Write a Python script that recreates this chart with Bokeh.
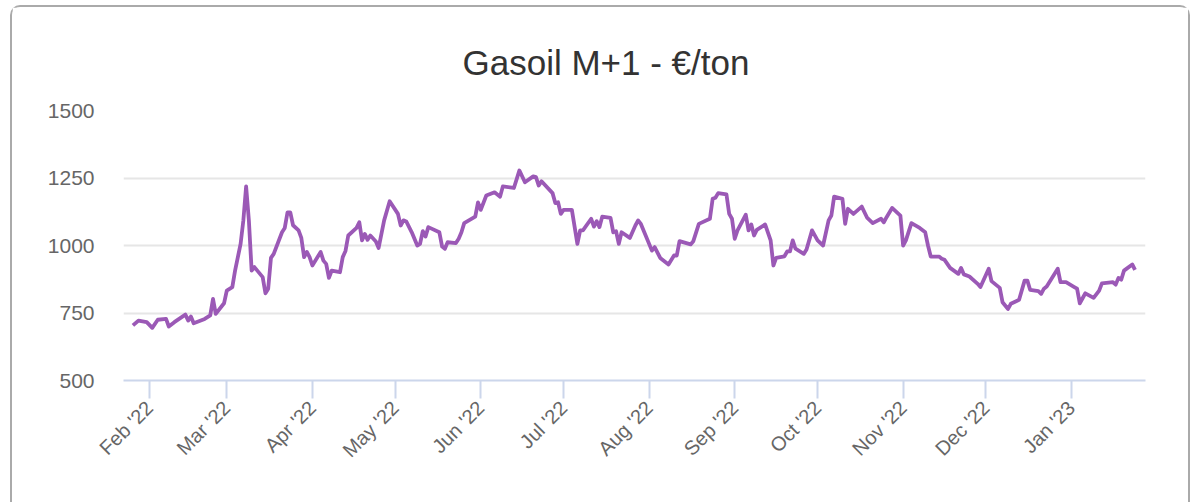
import datetime as dt
from math import pi
import pandas as pd
from bokeh.plotting import figure
from bokeh.models import Range1d, FixedTicker, DatetimeTickFormatter, ColumnDataSource
from bokeh.embed import file_html
from bokeh.resources import INLINE

title_text = "Gasoil M+1 - €/ton"

dates = [
    "2022-01-26", "2022-01-28", "2022-01-31", "2022-02-02", "2022-02-04", "2022-02-07", "2022-02-08",
    "2022-02-10", "2022-02-14", "2022-02-15", "2022-02-16", "2022-02-17", "2022-02-21", "2022-02-23",
    "2022-02-24", "2022-02-25", "2022-02-28", "2022-03-01", "2022-03-03", "2022-03-04", "2022-03-06",
    "2022-03-07", "2022-03-08", "2022-03-09", "2022-03-10", "2022-03-11", "2022-03-14", "2022-03-15",
    "2022-03-16", "2022-03-17", "2022-03-18", "2022-03-21", "2022-03-22", "2022-03-23", "2022-03-24",
    "2022-03-25", "2022-03-27", "2022-03-28", "2022-03-29", "2022-03-30", "2022-03-31", "2022-04-01",
    "2022-04-04", "2022-04-05", "2022-04-06", "2022-04-07", "2022-04-08", "2022-04-11", "2022-04-12",
    "2022-04-13", "2022-04-14", "2022-04-17", "2022-04-18", "2022-04-19", "2022-04-20", "2022-04-21",
    "2022-04-22", "2022-04-24", "2022-04-25", "2022-04-27", "2022-04-29", "2022-05-02", "2022-05-03",
    "2022-05-04", "2022-05-05", "2022-05-07", "2022-05-09", "2022-05-10", "2022-05-11", "2022-05-12",
    "2022-05-13", "2022-05-17", "2022-05-18", "2022-05-19", "2022-05-20", "2022-05-23", "2022-05-24",
    "2022-05-25", "2022-05-26", "2022-05-30", "2022-05-31", "2022-06-01", "2022-06-03", "2022-06-06",
    "2022-06-08", "2022-06-09", "2022-06-13", "2022-06-15", "2022-06-17", "2022-06-20", "2022-06-21",
    "2022-06-22", "2022-06-23", "2022-06-27", "2022-06-28", "2022-06-29", "2022-06-30", "2022-07-01",
    "2022-07-04", "2022-07-06", "2022-07-07", "2022-07-08", "2022-07-11", "2022-07-12", "2022-07-13",
    "2022-07-14", "2022-07-15", "2022-07-18", "2022-07-19", "2022-07-20", "2022-07-21", "2022-07-22",
    "2022-07-25", "2022-07-27", "2022-07-28", "2022-07-29", "2022-08-02", "2022-08-03", "2022-08-05",
    "2022-08-08", "2022-08-10", "2022-08-11", "2022-08-12", "2022-08-16", "2022-08-17", "2022-08-19",
    "2022-08-23", "2022-08-24", "2022-08-25", "2022-08-26", "2022-08-29", "2022-08-30", "2022-08-31",
    "2022-09-01", "2022-09-02", "2022-09-05", "2022-09-06", "2022-09-07", "2022-09-08", "2022-09-09",
    "2022-09-12", "2022-09-14", "2022-09-15", "2022-09-16", "2022-09-19", "2022-09-20", "2022-09-21",
    "2022-09-22", "2022-09-23", "2022-09-26", "2022-09-27", "2022-09-29", "2022-10-01", "2022-10-03",
    "2022-10-05", "2022-10-06", "2022-10-07", "2022-10-10", "2022-10-11", "2022-10-12", "2022-10-14",
    "2022-10-17", "2022-10-19", "2022-10-21", "2022-10-24", "2022-10-25", "2022-10-26", "2022-10-28",
    "2022-10-31", "2022-11-01", "2022-11-02", "2022-11-04", "2022-11-07", "2022-11-09", "2022-11-10",
    "2022-11-11", "2022-11-14", "2022-11-15", "2022-11-16", "2022-11-18", "2022-11-21", "2022-11-22",
    "2022-11-23", "2022-11-25", "2022-11-28", "2022-11-29", "2022-12-02", "2022-12-03", "2022-12-06",
    "2022-12-07", "2022-12-09", "2022-12-10", "2022-12-13", "2022-12-15", "2022-12-16", "2022-12-17",
    "2022-12-20", "2022-12-21", "2022-12-22", "2022-12-23", "2022-12-27", "2022-12-28", "2022-12-30",
    "2023-01-02", "2023-01-03", "2023-01-04", "2023-01-06", "2023-01-09", "2023-01-11", "2023-01-12",
    "2023-01-16", "2023-01-17", "2023-01-18", "2023-01-19", "2023-01-20", "2023-01-23", "2023-01-24",
]

values = [
    704, 722, 716, 695, 725, 728, 700,
    716, 744, 722, 737, 712, 728, 741,
    802, 747, 786, 833, 846, 907, 1006,
    1093, 1219, 1093, 907, 920, 883, 823,
    840, 954, 969, 1049, 1065, 1123, 1123,
    1075, 1056, 1028, 957, 976, 957, 926,
    976, 944, 932, 880, 907, 901, 957,
    980, 1037, 1065, 1086, 1019, 1043, 1021,
    1037, 1015, 991, 1093, 1164, 1117, 1074,
    1093, 1089, 1049, 1000, 1006, 1053, 1033,
    1068, 1049, 996, 988, 1012, 1009, 1025,
    1049, 1083, 1107, 1160, 1132, 1185, 1197,
    1181, 1219, 1213, 1278, 1234, 1256, 1253,
    1222, 1238, 1194, 1157, 1160, 1117, 1132,
    1132, 1006, 1056, 1056, 1099, 1070, 1090,
    1068, 1107, 1102, 1049, 1053, 1006, 1049,
    1028, 1074, 1093, 1080, 981, 994, 954,
    930, 963, 963, 1016, 1004, 1016, 1080,
    1099, 1173, 1177, 1194, 1189, 1117, 1099,
    1025, 1056, 1114, 1056, 1078, 1037, 1058,
    1078, 1019, 926, 954, 960, 978, 978,
    1019, 988, 969, 985, 1056, 1019, 1000,
    1093, 1111, 1181, 1173, 1080, 1136, 1117,
    1144, 1102, 1083, 1099, 1086, 1105, 1139,
    1111, 1000, 1019, 1083, 1065, 1049, 1000,
    959, 959, 951, 947, 917, 895, 917,
    893, 885, 858, 846, 914, 868, 843,
    790, 765, 784, 799, 870, 870, 836,
    831, 821, 840, 848, 914, 864, 864,
    846, 840, 786, 823, 806, 833, 860,
    864, 855, 880, 873, 907, 930, 910,
]

month_ticks = ["2022-02-01", "2022-03-01", "2022-04-01", "2022-05-01", "2022-06-01", "2022-07-01",
               "2022-08-01", "2022-09-01", "2022-10-01", "2022-11-01", "2022-12-01", "2023-01-01"]
y_ticks = [500, 750, 1000, 1250, 1500]
x_start, x_end = dt.datetime(2022, 1, 22, 14), dt.datetime(2023, 1, 27, 19)

src = ColumnDataSource(dict(date=pd.to_datetime(dates), value=values))

FONT = "Liberation Sans"

p = figure(output_backend="svg", toolbar_location=None, x_axis_type="datetime",
           x_range=Range1d(x_start, x_end), y_range=Range1d(500, 1500),
           frame_width=1022, frame_height=270,
           min_border_left=111, min_border_right=43, min_border_top=103, min_border_bottom=122)

p.styles = {"border": "2px solid #aaaaaa", "border-bottom": "none",
            "border-radius": "10px 10px 0 0", "margin-left": "10px", "margin-top": "5px"}

p.line("date", "value", source=src, line_color="#9b59b6", line_width=3.8, line_join="round")

p.title.text = title_text
p.title.align = "left"
p.title.text_font = FONT
p.title.text_font_size = "35px"
p.title.text_font_style = "normal"
p.title.text_color = "#333333"
p.title.standoff = 57
p.title.offset = 339

p.outline_line_color = None
p.background_fill_color = "white"
p.border_fill_color = "white"

p.xgrid.grid_line_color = None
p.ygrid.grid_line_color = "#e6e6e6"
p.ygrid.grid_line_width = 2
p.ygrid.ticker = FixedTicker(ticks=y_ticks)

xt = [int(t.value // 10**6) for t in pd.to_datetime(month_ticks)]
p.xaxis.ticker = FixedTicker(ticks=xt)
fmt = "%b '%y"
p.xaxis.formatter = DatetimeTickFormatter(days=fmt, months=fmt, years=fmt, hours=fmt,
                                          minutes=fmt, seconds=fmt, milliseconds=fmt, minsec=fmt,
                                          hourmin=fmt)
p.xaxis.major_label_orientation = pi / 4
p.xaxis.axis_line_color = "#ccd6eb"
p.xaxis.axis_line_width = 2
p.xaxis.major_tick_line_color = "#ccd6eb"
p.xaxis.major_tick_line_width = 2
p.xaxis.major_tick_out = 18
p.xaxis.major_tick_in = 0
p.xaxis.minor_tick_line_color = None
p.xaxis.major_label_standoff = 6
p.xaxis.major_label_text_font = FONT
p.xaxis.major_label_text_font_size = "20px"
p.xaxis.major_label_text_color = "#666666"

p.yaxis.ticker = FixedTicker(ticks=y_ticks)
p.yaxis.axis_line_color = None
p.yaxis.major_tick_line_color = None
p.yaxis.minor_tick_line_color = None
p.yaxis.major_label_standoff = 23
p.yaxis.major_label_text_font = FONT
p.yaxis.major_label_text_font_size = "21px"
p.yaxis.major_label_text_color = "#666666"

open("out.html", "w").write(file_html(p, INLINE))
